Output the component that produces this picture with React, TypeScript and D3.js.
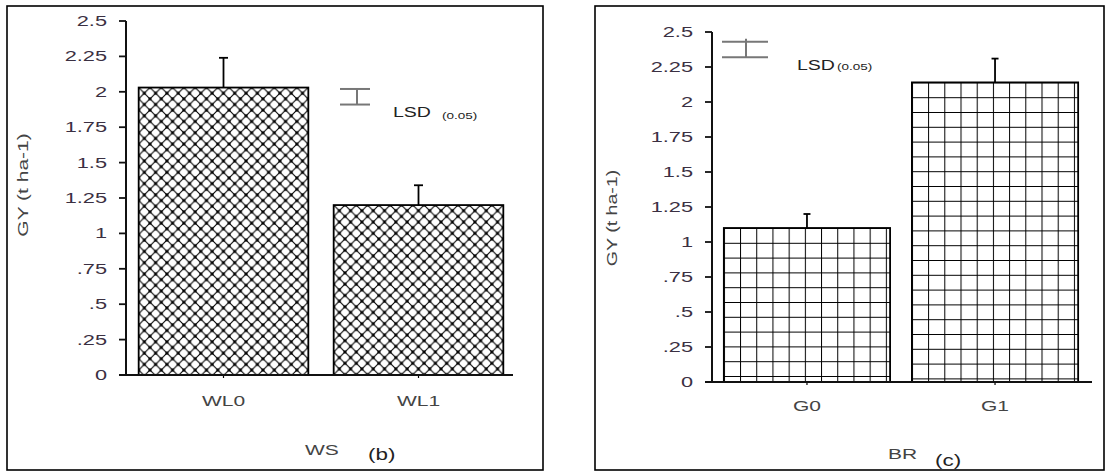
import React from "react";
import * as d3 from "d3";

// values
const wsCategories = ["WL0", "WL1"];
const wsMeans = [2.03, 1.2];
const wsErrors = [0.21, 0.14];
const wsLsd = [1.91, 2.02];

const brCategories = ["G0", "G1"];
const brMeans = [1.1, 2.14];
const brErrors = [0.1, 0.17];
const brLsd = [2.32, 2.43];

const yTicks = [0, 0.25, 0.5, 0.75, 1, 1.25, 1.5, 1.75, 2, 2.25, 2.5];
const yTickLabels = ["0", ".25", ".5", ".75", "1", "1.25", "1.5", "1.75", "2", "2.25", "2.5"];

const SX = 1.5; // the original text is stretched sideways
const FONT = "'Liberation Sans', Arial, sans-serif";

function T({ x, y, anchor = "start", size = 14, fill = "#333", rotate = 0, sx = SX, children }: any) {
  return (
    <text
      transform={`translate(${x},${y}) rotate(${rotate}) scale(${sx},1)`}
      textAnchor={anchor}
      fontSize={size}
      fontFamily={FONT}
      fill={fill}
    >
      {children}
    </text>
  );
}

function Panel(props: any) {
  const { id, cats, means, errs, lsd, box, yPx, xPx, pIn, pOut, axisEnd, fill, cap, lsdPos, labels } = props;

  const y = d3.scaleLinear().domain([0, 2.5]).range(yPx);
  const x = d3.scaleBand().domain(cats).range(xPx).paddingInner(pIn).paddingOuter(pOut);
  const axisX = xPx[0];
  const y0 = y(0);

  return (
    <g>
      <rect x={box[0]} y={box[1]} width={box[2] - box[0]} height={box[3] - box[1]} fill="none" stroke="#000" strokeWidth={1.6} />

      {/* bars */}
      {cats.map((c: string, i: number) => {
        const bx = x(c)!;
        const top = y(means[i]);
        const pid = `${id}-p${i}`;
        const mid = bx + x.bandwidth() / 2;
        const errTop = y(means[i] + errs[i]);
        return (
          <g key={c}>
            <defs>
              {fill === "cross" ? (
                <pattern id={pid} patternUnits="userSpaceOnUse" width={11.3} height={11.3} x={bx} y={top}>
                  <path d="M0 0 L11.3 11.3 M0 11.3 L11.3 0" stroke="#000" strokeWidth={1.15} />
                  {[[5.65, 5.65], [0, 0], [11.3, 0], [0, 11.3], [11.3, 11.3]].map(([cx, cy], k) => (
                    <circle key={k} cx={cx} cy={cy} r={1.6} fill="#000" />
                  ))}
                </pattern>
              ) : (
                <pattern id={pid} patternUnits="userSpaceOnUse" width={16.2} height={14.8} x={bx} y={top}>
                  <path d="M0 0 H16.2 M0 0 V14.8" stroke="#000" strokeWidth={2} />
                </pattern>
              )}
            </defs>
            <rect x={bx} y={top} width={x.bandwidth()} height={y0 - top} fill={`url(#${pid})`} stroke="#000" strokeWidth={1.8} />
            {/* error bar */}
            <line x1={mid} x2={mid} y1={top} y2={errTop} stroke="#000" strokeWidth={1.8} />
            <line x1={mid - cap} x2={mid + cap} y1={errTop} y2={errTop} stroke="#000" strokeWidth={1.8} />
            {/* category tick + label */}
            <line x1={mid} x2={mid} y1={y0} y2={y0 + 3} stroke="#000" strokeWidth={1.2} />
            <T x={mid} y={labels.catY} anchor="middle" size={14} fill="#444">{c}</T>
          </g>
        );
      })}

      {/* y axis */}
      <line x1={axisX} x2={axisX} y1={y(2.5)} y2={y0} stroke="#111" strokeWidth={2} />
      {yTicks.map((t, i) => (
        <g key={t}>
          <line x1={axisX - 7} x2={axisX} y1={y(t)} y2={y(t)} stroke="#111" strokeWidth={1.8} />
          <T x={labels.tickX} y={y(t) + 5} anchor="end" size={14.5} fill="#3b3042">{yTickLabels[i]}</T>
        </g>
      ))}
      {/* x axis */}
      <line x1={axisX - 7} x2={axisEnd} y1={y0} y2={y0} stroke="#111" strokeWidth={2} />

      {/* LSD marker */}
      <g stroke="#777" strokeWidth={2}>
        <line x1={lsdPos.x1} x2={lsdPos.x2} y1={y(lsd[1])} y2={y(lsd[1])} />
        <line x1={lsdPos.x1} x2={lsdPos.x2} y1={y(lsd[0])} y2={y(lsd[0])} />
        <line x1={lsdPos.vx} x2={lsdPos.vx} y1={y(lsd[1]) - lsdPos.over} y2={y(lsd[0])} />
      </g>
      <T x={lsdPos.tx} y={lsdPos.ty} size={15} sx={1.3} fill="#222">LSD</T>
      <T x={lsdPos.sx} y={lsdPos.sy} size={9} fill="#222">(0.05)</T>

      {/* axis titles */}
      <T x={labels.yTitleX} y={labels.yTitleY} anchor="middle" rotate={-90} size={14} sx={labels.yTitleSx} fill="#444">GY (t ha-1)</T>
      <T x={labels.xTitleX} y={labels.xTitleY} size={14} fill="#444">{labels.xTitle}</T>
      <T x={labels.tagX} y={labels.tagY} size={16} sx={1.4} fill="#222">{labels.tag}</T>
    </g>
  );
}

export default function App() {
  return (
    <svg width={1107} height={473} style={{ position: "absolute", left: 0, top: 0 }}>
      <rect width={1107} height={473} fill="#fff" />
      <Panel
        id="ws"
        cats={wsCategories}
        means={wsMeans}
        errs={wsErrors}
        lsd={wsLsd}
        box={[7, 6, 543, 470]}
        yPx={[375, 21]}
        xPx={[126, 516]}
        pIn={0.13}
        pOut={0.065}
        axisEnd={513}
        fill="cross"
        cap={4.5}
        lsdPos={{ x1: 340, x2: 370, vx: 357, over: 0, tx: 393, ty: 117, sx: 442, sy: 119 }}
        labels={{ catY: 406, tickX: 107, yTitleX: 28, yTitleY: 185, yTitleSx: 1.5, xTitle: "WS", xTitleX: 305, xTitleY: 455, tag: "(b)", tagX: 368, tagY: 460 }}
      />
      <Panel
        id="br"
        cats={brCategories}
        means={brMeans}
        errs={brErrors}
        lsd={brLsd}
        box={[595, 6, 1104, 470]}
        yPx={[382, 32]}
        xPx={[712, 1090]}
        pIn={0.116}
        pOut={0.063}
        axisEnd={1092}
        fill="grid"
        cap={3.5}
        lsdPos={{ x1: 722, x2: 768, vx: 746, over: 3, tx: 797, ty: 70, sx: 837, sy: 70 }}
        labels={{ catY: 411, tickX: 693, yTitleX: 617, yTitleY: 218, yTitleSx: 1.4, xTitle: "BR", xTitleX: 888, xTitleY: 459, tag: "(c)", tagX: 935, tagY: 466 }}
      />
    </svg>
  );
}
